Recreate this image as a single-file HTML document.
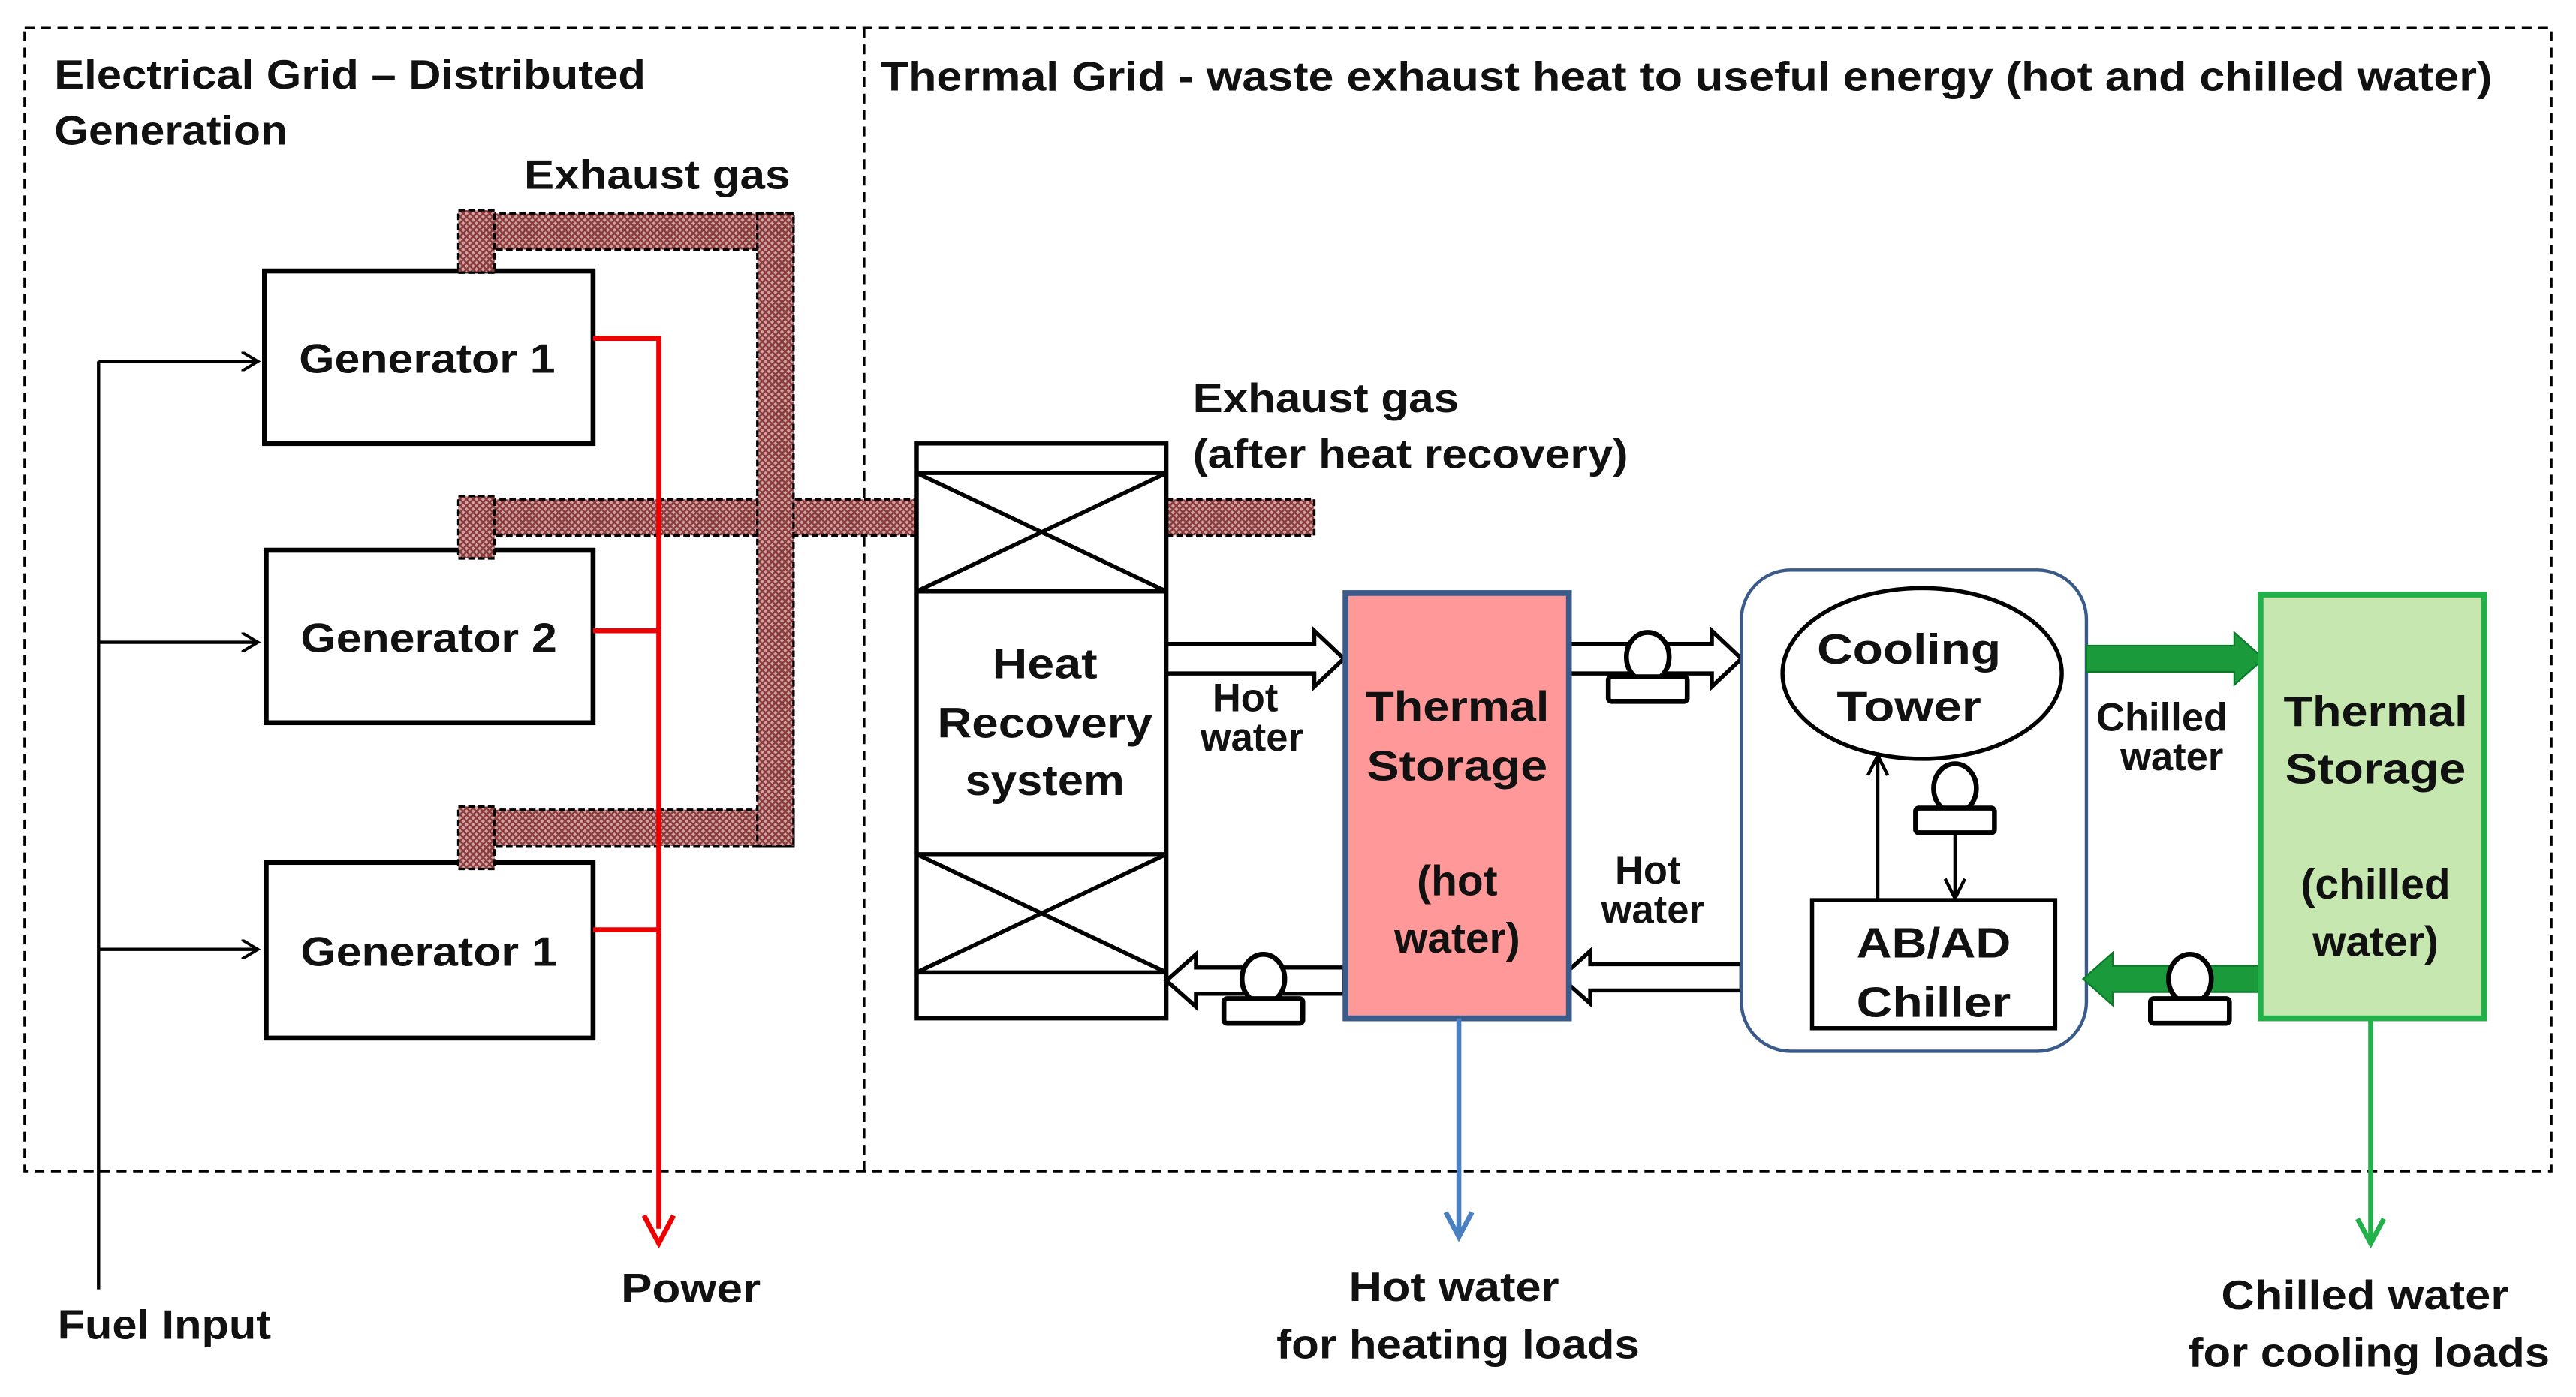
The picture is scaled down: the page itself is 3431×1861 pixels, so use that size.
<!DOCTYPE html>
<html><head><meta charset="utf-8"><style>
html,body{margin:0;padding:0;background:#fff;}
svg{display:block;}
text{font-family:"Liberation Sans",Arial,sans-serif;font-weight:bold;fill:#111;}
</style></head><body>
<svg width="3431" height="1861" viewBox="0 0 1568 850.5" preserveAspectRatio="none" xmlns="http://www.w3.org/2000/svg">
<defs>
<pattern id="h" width="4" height="4" patternUnits="userSpaceOnUse">
<rect width="4" height="4" fill="#d0a4a4"/><path d="M0 0L4 4M4 0L0 4" stroke="#8a3a3a" stroke-width="1.1"/>
</pattern>
<marker id="ab" markerWidth="12" markerHeight="12" refX="10" refY="6" orient="auto" markerUnits="userSpaceOnUse"><path d="M0 0L10 6L0 12" fill="none" stroke="#000" stroke-width="1.8"/></marker>
</defs>
<rect x="15" y="17" width="1538" height="696" fill="none" stroke="#000" stroke-width="1.5" stroke-dasharray="6,4"/>
<line x1="526" y1="17" x2="526" y2="713" stroke="#000" stroke-width="1.5" stroke-dasharray="6,4"/>
<line x1="60" y1="220" x2="60" y2="785" stroke="#000" stroke-width="2"/>
<line x1="60" y1="220" x2="157" y2="220" stroke="#000" stroke-width="2" marker-end="url(#ab)"/>
<line x1="60" y1="391" x2="157" y2="391" stroke="#000" stroke-width="2" marker-end="url(#ab)"/>
<line x1="60" y1="578" x2="157" y2="578" stroke="#000" stroke-width="2" marker-end="url(#ab)"/>
<rect x="161" y="165" width="200" height="105" fill="#fff" stroke="#000" stroke-width="3"/>
<rect x="162" y="335" width="199" height="105" fill="#fff" stroke="#000" stroke-width="3"/>
<rect x="162" y="525" width="199" height="107" fill="#fff" stroke="#000" stroke-width="3"/>
<text x="182" y="227" font-size="25" textLength="156" lengthAdjust="spacingAndGlyphs">Generator 1</text>
<text x="183" y="397" font-size="25" textLength="156" lengthAdjust="spacingAndGlyphs">Generator 2</text>
<text x="183" y="588" font-size="25" textLength="156" lengthAdjust="spacingAndGlyphs">Generator 1</text>
<g fill="url(#h)" stroke="#000" stroke-width="1.5" stroke-dasharray="4,2">
<rect x="280" y="130" width="203" height="22"/>
<rect x="280" y="304" width="278" height="22"/>
<rect x="280" y="493" width="203" height="22"/>
<rect x="461" y="130" width="22" height="385"/>
<rect x="279" y="128" width="22" height="38"/>
<rect x="279" y="302" width="22" height="38"/>
<rect x="279" y="491" width="22" height="38"/>
<rect x="710" y="304" width="90" height="22"/>
</g>
<polyline points="361,206 401,206 401,748" fill="none" stroke="#e00" stroke-width="3"/>
<line x1="361" y1="384" x2="401" y2="384" stroke="#e00" stroke-width="3"/>
<line x1="361" y1="566" x2="401" y2="566" stroke="#e00" stroke-width="3"/>
<path d="M392 740L401 757L410 740" fill="none" stroke="#e00" stroke-width="3"/>
<rect x="558" y="270" width="152" height="350" fill="#fff" stroke="#000" stroke-width="2.5"/>
<g stroke="#000" stroke-width="2.5">
<line x1="558" y1="288" x2="710" y2="288"/><line x1="558" y1="360" x2="710" y2="360"/>
<line x1="558" y1="520" x2="710" y2="520"/><line x1="558" y1="592" x2="710" y2="592"/>
<line x1="558" y1="288" x2="710" y2="360"/><line x1="710" y1="288" x2="558" y2="360"/>
<line x1="558" y1="520" x2="710" y2="592"/><line x1="710" y1="520" x2="558" y2="592"/>
</g>
<text x="636" y="413" font-size="26" text-anchor="middle" textLength="64" lengthAdjust="spacingAndGlyphs">Heat</text>
<text x="636" y="449" font-size="26" text-anchor="middle" textLength="131" lengthAdjust="spacingAndGlyphs">Recovery</text>
<text x="636" y="484" font-size="26" text-anchor="middle" textLength="97" lengthAdjust="spacingAndGlyphs">system</text>
<g fill="#fff" stroke="#000" stroke-width="2.5">
<path d="M710 392H800V384L818 401L800 418V410H710Z"/>
<path d="M955 392H1042V384L1060 401L1042 418V410H955Z"/>
<path d="M1060 587H968V579L950 595L968 611V603H1060Z"/>
<path d="M818 589H728V581L710 597L728 613V605H818Z"/>
</g>
<rect x="819" y="361" width="136" height="259" fill="#f99" stroke="#3a5a8a" stroke-width="3.5"/>
<text x="887" y="439" font-size="26" text-anchor="middle" textLength="112" lengthAdjust="spacingAndGlyphs">Thermal</text>
<text x="887" y="475" font-size="26" text-anchor="middle" textLength="110" lengthAdjust="spacingAndGlyphs">Storage</text>
<text x="887" y="545" font-size="26" text-anchor="middle">(hot</text>
<text x="887" y="580" font-size="26" text-anchor="middle">water)</text>
<rect x="1060" y="347" width="210" height="293" rx="30" fill="#fff" stroke="#3a5a8a" stroke-width="2"/>
<ellipse cx="1170" cy="410" rx="85" ry="52" fill="#fff" stroke="#000" stroke-width="2.5"/>
<text x="1162" y="404" font-size="26" text-anchor="middle" textLength="112" lengthAdjust="spacingAndGlyphs">Cooling</text>
<text x="1162" y="439" font-size="26" text-anchor="middle" textLength="88" lengthAdjust="spacingAndGlyphs">Tower</text>
<rect x="1103" y="548" width="148" height="78" fill="#fff" stroke="#000" stroke-width="2.5"/>
<text x="1177" y="583" font-size="26" text-anchor="middle" textLength="94" lengthAdjust="spacingAndGlyphs">AB/AD</text>
<text x="1177" y="619" font-size="26" text-anchor="middle" textLength="94" lengthAdjust="spacingAndGlyphs">Chiller</text>
<line x1="1143" y1="548" x2="1143" y2="462" stroke="#000" stroke-width="2"/>
<path d="M1137 472L1143 460L1149 472" fill="none" stroke="#000" stroke-width="2"/>
<line x1="1190" y1="500" x2="1190" y2="546" stroke="#000" stroke-width="2"/>
<path d="M1184 535L1190 547L1196 535" fill="none" stroke="#000" stroke-width="2"/>
<path d="M1270 393H1360V385L1378 401L1360 417V409H1270Z" fill="#1a9a3a" stroke="#0a7a2a" stroke-width="1"/>
<path d="M1376 588H1286V580L1268 596L1286 612V604H1376Z" fill="#1a9a3a" stroke="#0a7a2a" stroke-width="1"/>
<rect x="1376" y="362" width="136" height="258" fill="#c6e8b0" stroke="#22b04a" stroke-width="3.5"/>
<text x="1446" y="442" font-size="26" text-anchor="middle" textLength="112" lengthAdjust="spacingAndGlyphs">Thermal</text>
<text x="1446" y="477" font-size="26" text-anchor="middle" textLength="110" lengthAdjust="spacingAndGlyphs">Storage</text>
<text x="1446" y="547" font-size="26" text-anchor="middle">(chilled</text>
<text x="1446" y="582" font-size="26" text-anchor="middle">water)</text>
<g fill="#fff" stroke="#000" stroke-width="3">
<g transform="translate(1003,400)"><ellipse cx="0" cy="0" rx="13" ry="15"/><rect x="-24" y="12" width="48" height="15" rx="2"/></g>
<g transform="translate(1190,480)"><ellipse cx="0" cy="0" rx="13" ry="15"/><rect x="-24" y="12" width="48" height="15" rx="2"/></g>
<g transform="translate(769,596)"><ellipse cx="0" cy="0" rx="13" ry="15"/><rect x="-24" y="12" width="48" height="15" rx="2"/></g>
<g transform="translate(1333,596)"><ellipse cx="0" cy="0" rx="13" ry="15"/><rect x="-24" y="12" width="48" height="15" rx="2"/></g>
</g>
<line x1="888" y1="620" x2="888" y2="752" stroke="#4a7fc0" stroke-width="3"/>
<path d="M880 738L888 753L896 738" fill="none" stroke="#4a7fc0" stroke-width="3"/>
<line x1="1443" y1="620" x2="1443" y2="756" stroke="#22b04a" stroke-width="3"/>
<path d="M1435 742L1443 757L1451 742" fill="none" stroke="#22b04a" stroke-width="3"/>
<text x="33" y="54" font-size="25" textLength="360" lengthAdjust="spacingAndGlyphs">Electrical  Grid  – Distributed</text>
<text x="33" y="88" font-size="25" textLength="142" lengthAdjust="spacingAndGlyphs">Generation</text>
<text x="536" y="55" font-size="25" textLength="981" lengthAdjust="spacingAndGlyphs">Thermal Grid  - waste exhaust heat to useful energy  (hot and chilled  water)</text>
<text x="319" y="115" font-size="25" textLength="162" lengthAdjust="spacingAndGlyphs">Exhaust gas</text>
<text x="726" y="251" font-size="25" textLength="162" lengthAdjust="spacingAndGlyphs">Exhaust gas</text>
<text x="726" y="285" font-size="25" textLength="265" lengthAdjust="spacingAndGlyphs">(after heat recovery)</text>
<text x="758" y="433" font-size="24" text-anchor="middle">Hot</text>
<text x="762" y="457" font-size="24" text-anchor="middle">water</text>
<text x="1003" y="538" font-size="24" text-anchor="middle">Hot</text>
<text x="1006" y="562" font-size="24" text-anchor="middle">water</text>
<text x="1316" y="445" font-size="24" text-anchor="middle">Chilled</text>
<text x="1322" y="469" font-size="24" text-anchor="middle">water</text>
<text x="378" y="793" font-size="25" textLength="85" lengthAdjust="spacingAndGlyphs">Power</text>
<text x="35" y="815" font-size="25" textLength="130" lengthAdjust="spacingAndGlyphs">Fuel Input</text>
<text x="821" y="792" font-size="25" textLength="128" lengthAdjust="spacingAndGlyphs">Hot water</text>
<text x="777" y="827" font-size="25" textLength="221" lengthAdjust="spacingAndGlyphs">for heating loads</text>
<text x="1352" y="797" font-size="25" textLength="175" lengthAdjust="spacingAndGlyphs">Chilled  water</text>
<text x="1332" y="832" font-size="25" textLength="220" lengthAdjust="spacingAndGlyphs">for cooling loads</text>
</svg>
</body></html>
